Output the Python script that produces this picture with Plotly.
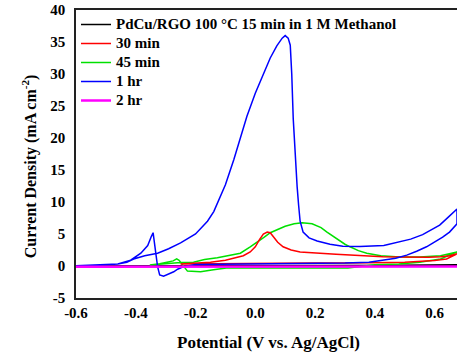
import plotly.graph_objects as go

# ---------------- data ----------------
x_tick_vals = [-0.6, -0.4, -0.2, 0.0, 0.2, 0.4, 0.6]
x_tick_text = ["-0.6", "-0.4", "-0.2", "0.0", "0.2", "0.4", "0.6"]
y_tick_vals = [-5, 0, 5, 10, 15, 20, 25, 30, 35, 40]
y_tick_text = ["-5", "0", "5", "10", "15", "20", "25", "30", "35", "40"]

series_names = ["PdCu/RGO 100 °C 15 min in 1 M Methanol", "30 min", "45 min", "1 hr", "2 hr"]

# 15 min (black) - near zero, mostly hidden
v15 = [-0.6, -0.3, 0.0, 0.3, 0.675, 0.3, 0.0, -0.3, -0.6]
j15 = [0.0, 0.05, 0.1, 0.1, 0.1, 0.0, 0.0, -0.05, 0.0]

# 30 min (red)
v30 = [-0.25, -0.2, -0.15, -0.1, -0.073, -0.04, -0.017, 0.0, 0.015, 0.027, 0.04, 0.05, 0.06,
       0.075, 0.093, 0.12, 0.15, 0.19, 0.227, 0.27, 0.317, 0.37, 0.427, 0.48, 0.53, 0.58,
       0.62, 0.65, 0.675,
       0.64, 0.6, 0.55, 0.5, 0.45, 0.4, 0.3, 0.2, 0.1, 0.0, -0.1, -0.2, -0.25]
j30 = [0.3, 0.45, 0.6, 0.9, 1.2, 1.6, 2.2, 3.0, 4.2, 5.0, 5.3, 5.2, 4.6,
       3.7, 3.0, 2.5, 2.2, 2.05, 2.0, 1.85, 1.7, 1.55, 1.45, 1.4, 1.35, 1.35,
       1.45, 1.6, 1.9,
       1.1, 0.85, 0.7, 0.6, 0.55, 0.5, 0.45, 0.45, 0.4, 0.35, 0.3, 0.3, 0.3]

# 45 min (green)
v45 = [-0.353, -0.3, -0.25, -0.207, -0.17, -0.127, -0.09, -0.05, -0.017, 0.003, 0.03, 0.05,
       0.07, 0.1, 0.13, 0.157, 0.19, 0.22, 0.24, 0.27, 0.3, 0.317, 0.345, 0.373, 0.42, 0.483,
       0.55, 0.62, 0.675,
       0.62, 0.55, 0.48, 0.4, 0.31, 0.2, 0.1, 0.0, -0.097, -0.14, -0.183, -0.227, -0.245,
       -0.255, -0.263, -0.275, -0.32, -0.353]
j45 = [0.15, 0.4, 0.55, 0.6, 1.0, 1.3, 1.6, 2.0, 3.0, 3.6, 4.5, 5.2,
       5.6, 6.2, 6.6, 6.75, 6.6, 6.0, 5.3, 4.3, 3.4, 3.0, 2.4, 2.0, 1.6, 1.4,
       1.4, 1.6, 2.2,
       1.1, 0.6, 0.3, 0.2, -0.3, -0.3, -0.3, -0.3, -0.3, -0.6, -0.9, -0.8, 0.2,
       0.9, 1.1, 0.8, 0.35, 0.15]

# 1 hr (blue)
v1h = [-0.6, -0.5, -0.46, -0.43, -0.407, -0.37, -0.327, -0.29, -0.25, -0.2, -0.16, -0.139,
       -0.12, -0.1, -0.072, -0.05, -0.028, 0.0, 0.028, 0.05, 0.072, 0.09, 0.1, 0.11, 0.117,
       0.122, 0.127, 0.133, 0.14, 0.145, 0.15, 0.16, 0.18, 0.207, 0.25, 0.293, 0.35, 0.43,
       0.49, 0.52, 0.56, 0.59, 0.617, 0.645, 0.675,
       0.675, 0.65, 0.627, 0.6, 0.573, 0.54, 0.507, 0.47, 0.43, 0.38, 0.3, 0.2, 0.1, 0.0, -0.1,
       -0.2, -0.24, -0.26, -0.273, -0.29, -0.307, -0.32, -0.327, -0.333, -0.338, -0.342,
       -0.348, -0.36, -0.383, -0.417, -0.46, -0.5, -0.55, -0.6]
j1h = [0.05, 0.15, 0.3, 0.6, 1.1, 1.6, 2.0, 2.7, 3.6, 5.0, 7.0, 8.5,
       10.5, 12.7, 16.6, 20.0, 23.4, 27.0, 30.2, 32.5, 34.4, 35.6, 36.0, 35.6, 34.5,
       30.0, 23.0, 17.0, 12.4, 9.5, 7.0, 5.3, 4.4, 3.9, 3.4, 3.1, 3.05, 3.2,
       3.8, 4.2, 4.9, 5.7, 6.4, 7.6, 8.9,
       6.6, 5.3, 4.5, 3.7, 3.0, 2.3, 1.7, 1.2, 0.9, 0.6, 0.45, 0.4, 0.35, 0.3, 0.3,
       0.25, -0.1, -0.5, -0.9, -1.3, -1.6, -1.4, -0.1, 2.0, 4.0, 5.2,
       4.6, 3.2, 2.0, 0.9, 0.3, 0.15, 0.05, 0.0]

# 2 hr (magenta)
v2h = [-0.6, -0.3, 0.0, 0.3, 0.675]
j2h = [-0.1, -0.1, -0.08, -0.08, -0.08]

colors = ["#000000", "#ff0000", "#00e000", "#0000ff", "#ff00ff"]

FONT = "Liberation Serif"

fig = go.Figure()
# draw order: black, green, red, blue, magenta ; legend order set by legendrank
draw = [
    (v15, j15, 0, 1.5, 1),
    (v45, j45, 2, 1.5, 3),
    (v30, j30, 1, 1.5, 2),
    (v1h, j1h, 3, 1.5, 4),
    (v2h, j2h, 4, 2.5, 5),
]
for xs, ys, ci, w, rank in draw:
    fig.add_trace(go.Scatter(
        x=xs, y=ys, mode="lines",
        name='<span style="font-size:15px">' + series_names[ci] + "</span>",
        line=dict(color=colors[ci], width=w), legendrank=rank,
    ))

fig.update_layout(
    width=457, height=354,
    margin=dict(l=76, r=0, t=10, b=56),
    paper_bgcolor="white", plot_bgcolor="white",
    font=dict(family=FONT, size=15, color="black"),
    showlegend=True,
    legend=dict(
        x=0.0, y=1.0, xanchor="left", yanchor="top",
        bgcolor="rgba(0,0,0,0)", borderwidth=0,
        font=dict(family=FONT, size=12, color="black", weight="bold"),
        tracegroupgap=0, itemwidth=30,
    ),
    xaxis=dict(
        range=[-0.6, 0.675], showgrid=False, zeroline=False,
        showline=True, linecolor="#222", linewidth=1.5, mirror=True,
        ticks="", tickvals=x_tick_vals, ticktext=x_tick_text,
        tickfont=dict(family=FONT, size=15, color="black", weight="bold"),
        ticklabelstandoff=0,
    ),
    yaxis=dict(
        range=[-5, 40], showgrid=False, zeroline=False,
        showline=True, linecolor="#222", linewidth=1.5, mirror=False,
        ticks="", tickvals=y_tick_vals, ticktext=y_tick_text,
        tickfont=dict(family=FONT, size=15, color="black", weight="bold"),
        ticklabelstandoff=6,
    ),
    annotations=[
        dict(text="Potential (V vs. Ag/AgCl)", xref="paper", yref="paper",
             x=0.504, y=-0.153, xanchor="center", yanchor="middle", showarrow=False,
             font=dict(family=FONT, size=17, color="black", weight="bold")),
        dict(text="Current Density (mA cm<sup>-2</sup>)", xref="paper", yref="paper",
             x=-0.123, y=0.458, xanchor="center", yanchor="middle", showarrow=False,
             textangle=-90,
             font=dict(family=FONT, size=16, color="black", weight="bold")),
    ],
)

fig.write_html(
    "out.html",
    config={"displayModeBar": False},
    post_script="document.body.style.margin='0';document.body.style.overflow='hidden';",
)
